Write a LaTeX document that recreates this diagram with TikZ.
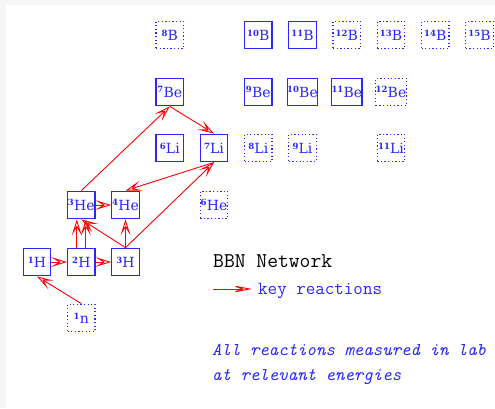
\documentclass[tikz,border=0pt]{standalone}
\usepackage{fontspec}
\setmainfont{DejaVu Serif}
\setmonofont{Latin Modern Mono}
\usetikzlibrary{arrows.meta}

\definecolor{nucblue}{RGB}{40,40,250}
\definecolor{pagegray}{RGB}{246,246,246}

% nuclide label: mass number as a small raised figure before the symbol
\newcommand{\iso}[2]{\raisebox{4.2pt}{\fontsize{8.5}{8.5}\selectfont\bfseries #1}\kern0.2pt#2}

\tikzset{
  nuc/.style={minimum size=27.5pt, inner sep=0pt, text=nucblue,
              font=\fontsize{14}{14}\selectfont, line width=1.3pt},
  known/.style={nuc, draw=nucblue},
  unknown/.style={nuc, draw=nucblue, dash pattern=on 1.3pt off 2.3pt},
  react/.style={draw=red, line width=0.9pt,
                -{Stealth[open, length=16pt, width=10pt, inset=8pt]}},
  legendarrow/.style={draw=red, line width=0.9pt,
                -{Stealth[open, length=21pt, width=8pt, inset=10pt]}},
}

\begin{document}
\begin{tikzpicture}[x=1pt, y=-1pt]
  % page background with its thin grey margin
  \fill[pagegray] (0,0) rectangle (495,408);
  \fill[white] (6,5) rectangle (495,408);
  \useasboundingbox (0,0) rectangle (495,408);

  % boron row
  \node[unknown] (B8)  at (169.8,35) {\iso{8}{B}};
  \node[known]   (B10) at (258.3,35) {\iso{10}{B}};
  \node[known]   (B11) at (302.5,35) {\iso{11}{B}};
  \node[unknown] (B12) at (346.8,35) {\iso{12}{B}};
  \node[unknown] (B13) at (391,35)   {\iso{13}{B}};
  \node[unknown] (B14) at (435.3,35) {\iso{14}{B}};
  \node[unknown] (B15) at (479.5,35) {\iso{15}{B}};

  % beryllium row
  \node[known]   (Be7)  at (169.8,92) {\iso{7}{Be}};
  \node[known]   (Be9)  at (258.3,92) {\iso{9}{Be}};
  \node[known]   (Be10) at (302.5,92) {\iso{10}{Be}};
  \node[known]   (Be11) at (346.8,92) {\iso{11}{Be}};
  \node[unknown] (Be12) at (391,92)   {\iso{12}{Be}};

  % lithium row
  \node[known]   (Li6)  at (169.8,148) {\iso{6}{Li}};
  \node[known]   (Li7)  at (214,148)   {\iso{7}{Li}};
  \node[unknown] (Li8)  at (258.3,148) {\iso{8}{Li}};
  \node[unknown] (Li9)  at (302.5,148) {\iso{9}{Li}};
  \node[unknown] (Li11) at (391,148)   {\iso{11}{Li}};

  % helium row
  \node[known]   (He3) at (81.3,205)  {\iso{3}{He}};
  \node[known]   (He4) at (125.5,205) {\iso{4}{He}};
  \node[unknown] (He6) at (214,205)   {\iso{6}{He}};

  % hydrogen row
  \node[known] (H1) at (37,262)    {\iso{1}{H}};
  \node[known] (H2) at (81.3,262)  {\iso{2}{H}};
  \node[known] (H3) at (125.5,262) {\iso{3}{H}};

  % neutron
  \node[unknown] (n1) at (81.3,318) {\iso{1}{n}};

  % key reactions
  \draw[react] (n1.north) -- (H1.south);
  \draw[react] (H1.east) -- (H2.west);
  \draw[react] (H2.east) -- (H3.west);
  \draw[react] ([xshift=-4.5pt]H2.north) -- ([xshift=-4.5pt]He3.south);
  \draw[react] ([xshift=4.5pt]H2.north) -- ([xshift=4.5pt]He3.south);
  \draw[react] (H3.north) -- (He3.south);
  \draw[react] (H3.north) -- (He4.south);
  \draw[react] (He3.east) -- (He4.west);
  \draw[react] (He3.north) -- (Be7.south);
  \draw[react] (H3.north) -- (Li7.south);
  \draw[react] (Be7.south) -- (Li7.north);
  \draw[react] (Li7.south) -- (He4.north);

  % legend
  \node[anchor=base west, inner sep=0pt, font=\ttfamily\fontsize{21}{21}\selectfont]
    (title) at (213,267) {BBN Network};
  \node[anchor=base west, inner sep=0pt, text=nucblue, font=\ttfamily\fontsize{18.5}{18.5}\selectfont]
    (key) at (258,294) {key reactions};
  \coordinate (legtail) at (213,289);
  \coordinate (legtip) at (252,289);
  \draw[legendarrow] (legtail) -- (legtip);

  \node[anchor=base west, inner sep=0pt, text=nucblue, font=\ttfamily\itshape\fontsize{18}{18}\selectfont]
    (note1) at (212,355) {All reactions measured in lab};
  \node[anchor=base west, inner sep=0pt, text=nucblue, font=\ttfamily\itshape\fontsize{18}{18}\selectfont]
    (note2) at (212,380) {at relevant energies};
\end{tikzpicture}
\end{document}
